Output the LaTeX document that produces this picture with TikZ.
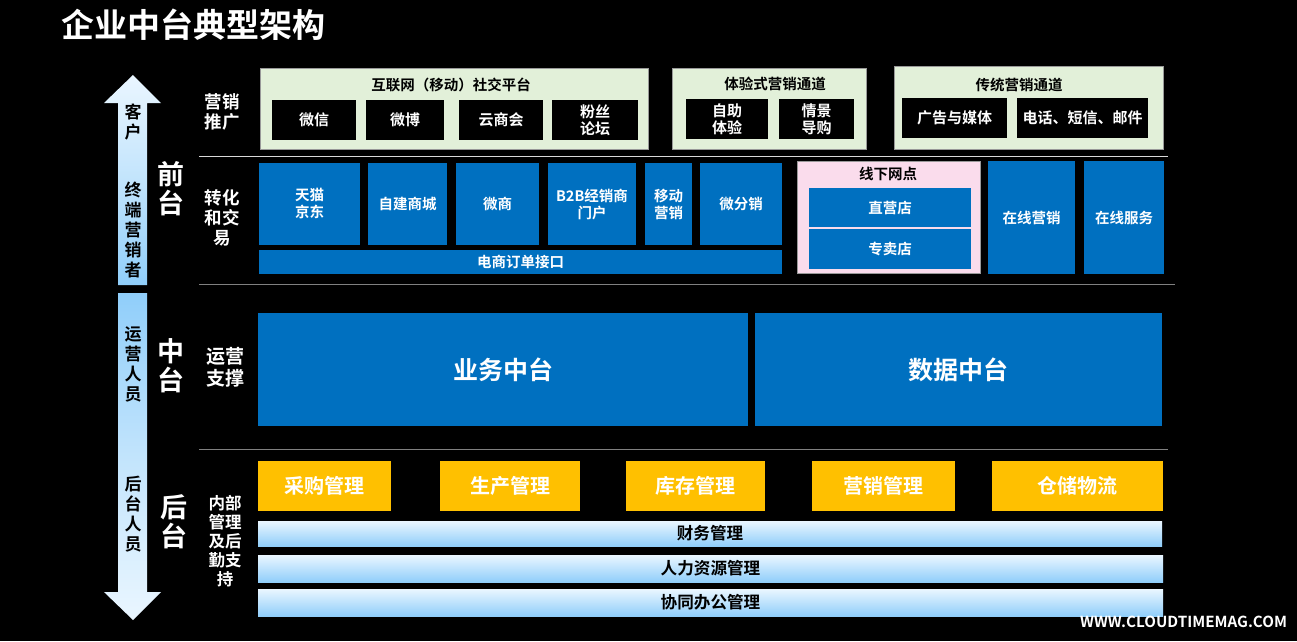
\documentclass[tikz,border=0pt]{standalone}
\usepackage{fontspec}
\setmainfont{Noto Sans CJK SC Bold}
\usetikzlibrary{calc}
\definecolor{cblue}{HTML}{0070C0}
\definecolor{corange}{HTML}{FFC000}
\definecolor{cgreen}{HTML}{E2F0D9}
\definecolor{cpink}{HTML}{FADCEC}
\definecolor{cbarlo}{HTML}{90CEFA}
\definecolor{cbarhi}{HTML}{EAF6FF}
\tikzset{
  basebox/.style={inner sep=0pt,outer sep=0pt,align=center},
  bluebox/.style={basebox,fill=cblue,text=white,font=\fontsize{14.5}{17}\selectfont},
  blackbox/.style={basebox,fill=black,text=white,font=\fontsize{15}{17}\selectfont},
  greenbox/.style={basebox,fill=cgreen,draw=white!60!black,line width=.6pt},
  pinkbox/.style={basebox,fill=cpink,draw=white!60!black,line width=.6pt},
  orangebox/.style={basebox,fill=corange,text=white,font=\fontsize{20}{24}\selectfont},
  bigbox/.style={basebox,fill=cblue,text=white,font=\fontsize{25}{30}\selectfont},
  barbox/.style={basebox,top color=cbarhi,bottom color=cbarlo,text=black,font=\fontsize{16.6}{19}\selectfont},
  grouptitle/.style={basebox,text=black,font=\fontsize{14.5}{17}\selectfont},
  tier/.style={basebox,text=white,font=\fontsize{27}{29}\selectfont},
  rowlabel/.style={basebox,text=white,font=\fontsize{17.5}{20}\selectfont},
  arrowtext/.style={basebox,text=black,font=\fontsize{17}{20}\selectfont},
  divider/.style={line width=1pt},
}
% name, x1, y1, x2, y2, style, text
\newcommand{\pxbox}[7]{%
  \pgfmathsetmacro{\bw}{#4-#2}\pgfmathsetmacro{\bh}{#5-#3}%
  \pgfmathsetmacro{\cx}{(#2+#4)/2}\pgfmathsetmacro{\cy}{(#3+#5)/2}%
  \node[#6,minimum width=\bw pt,minimum height=\bh pt,text width=\bw pt] (#1) at (\cx,\cy) {#7};%
}
\begin{document}
\begin{tikzpicture}[x=1pt,y=-1pt]
\useasboundingbox[fill=black] (0,0) rectangle (1297,641);
\node[basebox,text=white,anchor=west,font=\fontsize{33}{38}\selectfont] (title) at (61,25) {企业中台典型架构};

% side arrows
\shade[top color=cbarhi,bottom color=cbarlo,middle color=cbarlo!55!white]
  (133,75) -- (161,103) -- (147,103) -- (147,285) -- (118,285) -- (118,103) -- (104,103) -- cycle;
\shade[top color=cbarlo,bottom color=cbarhi,middle color=cbarlo!55!white]
  (118,293) -- (147,293) -- (147,592) -- (161,592) -- (133,620) -- (104,592) -- (118,592) -- cycle;
\node[arrowtext] (a1) at (133,122) {客\\户};
\node[arrowtext] (a2) at (133,230) {终\\端\\营\\销\\者};
\node[arrowtext] (a3) at (133,364) {运\\营\\人\\员};
\node[arrowtext] (a4) at (133,514) {后\\台\\人\\员};

% tiers
\node[tier] (t1) at (171,189) {前\\台};
\node[tier] (t2) at (171,366) {中\\台};
\node[tier] (t3) at (174,522) {后\\台};
\node[rowlabel] (r1) at (222,112) {营销\\推广};
\node[rowlabel] (r2) at (222,218) {转化\\和交\\易};
\node[rowlabel,font=\fontsize{19}{22}\selectfont] (r3) at (225,367) {运营\\支撑};
\node[rowlabel,font=\fontsize{16.5}{19}\selectfont] (r4) at (225,541) {内部\\管理\\及后\\勤支\\持};

% dividers
\coordinate (d1a) at (199,156); \coordinate (d1b) at (1168,156);
\coordinate (d2a) at (199,284); \coordinate (d2b) at (1175,284);
\coordinate (d3a) at (199,449); \coordinate (d3b) at (1168,449);
\draw[divider,white!85!black] (d1a) -- (d1b);
\draw[divider,white!50!black] (d2a) -- (d2b);
\draw[divider,white!50!black] (d3a) -- (d3b);

% marketing
\pxbox{g1}{260}{68}{648}{149}{greenbox}{}
\node[grouptitle] (g1t) at (451,85) {互联网（移动）社交平台};
\pxbox{m1}{272}{100}{356}{140}{blackbox}{微信}
\pxbox{m2}{366}{100}{444}{140}{blackbox}{微博}
\pxbox{m3}{459}{100}{543}{140}{blackbox}{云商会}
\pxbox{m4}{552}{100}{638}{140}{blackbox}{粉丝\\论坛}
\pxbox{g2}{672}{68}{866}{149}{greenbox}{}
\node[grouptitle] (g2t) at (775,84) {体验式营销通道};
\pxbox{m5}{686}{99}{768}{139}{blackbox}{自助\\体验}
\pxbox{m6}{779}{99}{854}{139}{blackbox}{情景\\导购}
\pxbox{g3}{894}{66}{1163}{149}{greenbox}{}
\node[grouptitle] (g3t) at (1019,85) {传统营销通道};
\pxbox{m7}{902}{98}{1007}{138}{blackbox}{广告与媒体}
\pxbox{m8}{1017}{98}{1148}{138}{blackbox}{电话、短信、邮件}

% conversion
\pxbox{c1}{259}{163}{360}{245}{bluebox}{天猫\\京东}
\pxbox{c2}{368}{163}{447}{245}{bluebox}{自建商城}
\pxbox{c3}{456}{163}{539}{245}{bluebox}{微商}
\pxbox{c4}{548}{163}{636}{245}{bluebox}{B2B经销商\\门户}
\pxbox{c5}{645}{163}{692}{245}{bluebox}{移动\\营销}
\pxbox{c6}{700}{163}{782}{245}{bluebox}{微分销}
\pxbox{c7}{259}{250}{782}{274}{bluebox}{电商订单接口}
\pxbox{p0}{797}{161}{980}{273}{pinkbox}{}
\node[grouptitle] (p0t) at (888,174) {线下网点};
\pxbox{p1}{809}{188}{971}{227}{bluebox}{直营店}
\pxbox{p2}{809}{229}{971}{269}{bluebox}{专卖店}
\pxbox{c8}{988}{161}{1075}{274}{bluebox}{在线营销}
\pxbox{c9}{1084}{161}{1164}{274}{bluebox}{在线服务}

% platforms
\pxbox{b1}{258}{313}{748}{426}{bigbox}{业务中台}
\pxbox{b2}{755}{313}{1162}{426}{bigbox}{数据中台}

% back office
\pxbox{o1}{258}{461}{391}{511}{orangebox}{采购管理}
\pxbox{o2}{440}{461}{580}{511}{orangebox}{生产管理}
\pxbox{o3}{626}{461}{765}{511}{orangebox}{库存管理}
\pxbox{o4}{812}{461}{955}{511}{orangebox}{营销管理}
\pxbox{o5}{992}{461}{1163}{511}{orangebox}{仓储物流}
\pxbox{s1}{258}{521}{1162}{546}{barbox}{财务管理}
\pxbox{s2}{258}{555}{1163}{582}{barbox}{人力资源管理}
\pxbox{s3}{258}{589}{1163}{616}{barbox}{协同办公管理}

\node[basebox,text=white,anchor=east,font=\fontsize{15.2}{18}\selectfont] (wm) at (1287,622) {WWW.CLOUDTIMEMAG.COM};
\end{tikzpicture}
\end{document}
